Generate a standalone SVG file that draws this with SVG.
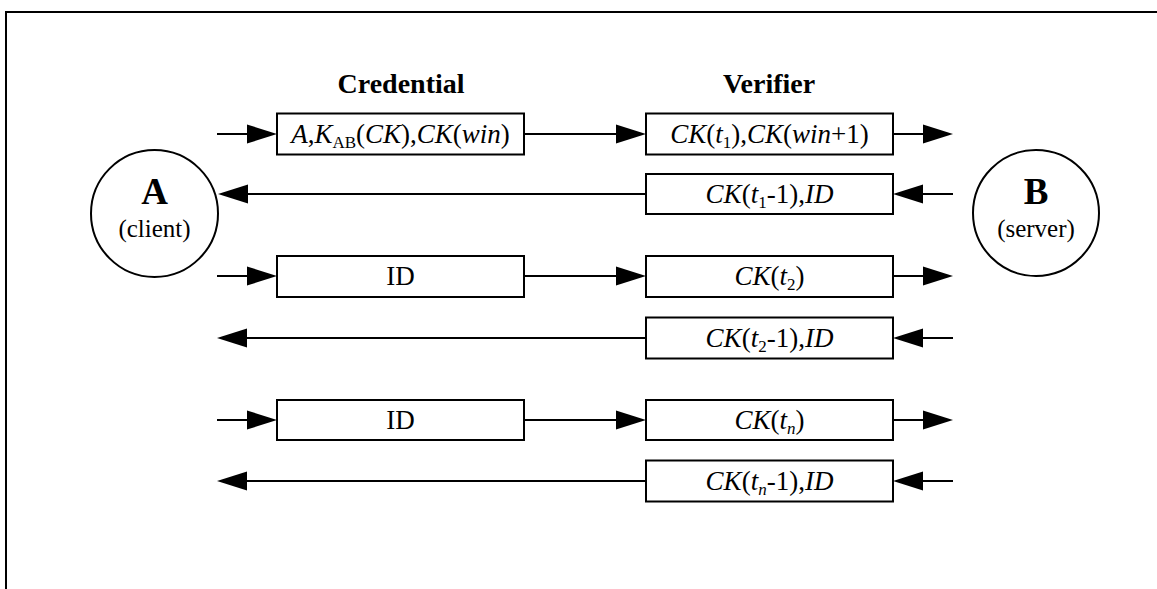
<svg xmlns="http://www.w3.org/2000/svg" width="1157" height="589" viewBox="0 0 1157 589">
  <style>
    .frame { fill: none; stroke: #000; stroke-width: 2; }
    .box { fill: #fff; stroke: #000; stroke-width: 2; }
    .party { fill: #fff; stroke: #000; stroke-width: 2; }
    .wire { fill: none; stroke: #000; stroke-width: 2; marker-end: url(#head); }
    text { font-family: "Liberation Serif", "DejaVu Serif", serif; fill: #000; }
    .hdr { font-size: 28px; font-weight: bold; text-anchor: middle; }
    .lbl { font-size: 27px; text-anchor: middle; }
    .it { font-style: italic; }
    .sub { font-size: 17px; }
    .big { font-size: 37px; font-weight: bold; text-anchor: middle; }
    .role { font-size: 25px; text-anchor: middle; }
  </style>
  <defs>
    <marker id="head" markerUnits="userSpaceOnUse" markerWidth="32" markerHeight="20" refX="20" refY="9.5" orient="auto" overflow="visible">
      <path d="M0,0 L30,9.5 L0,19 Z" fill="#000"/>
    </marker>
  </defs>

  <!-- page frame -->
  <path class="frame" d="M6,589 V12 H1157"/>

  <!-- column headings -->
  <text class="hdr" x="401" y="93">Credential</text>
  <text class="hdr" x="769" y="93">Verifier</text>

  <!-- parties -->
  <g id="client">
    <circle class="party" cx="154.5" cy="213.5" r="63.5"/>
    <text class="big" x="154.5" y="204">A</text>
    <text class="role" x="154.5" y="237">(client)</text>
  </g>
  <g id="server">
    <circle class="party" cx="1036" cy="213" r="63"/>
    <text class="big" x="1036" y="204">B</text>
    <text class="role" x="1036" y="237">(server)</text>
  </g>

  <!-- connectors -->
  <g id="connectors">
    <!-- row 1: A to B -->
    <path class="wire" d="M217,134 H267"/>
    <path class="wire" d="M524,134 H636"/>
    <path class="wire" d="M893,134 H943"/>
    <!-- row 2: B to A -->
    <path class="wire" d="M953,194 H903"/>
    <path class="wire" d="M646,194 H228"/>
    <!-- row 3 -->
    <path class="wire" d="M217,276 H267"/>
    <path class="wire" d="M524,276 H636"/>
    <path class="wire" d="M893,276 H943"/>
    <!-- row 4 -->
    <path class="wire" d="M953,338 H903"/>
    <path class="wire" d="M646,338 H227"/>
    <!-- row 5 -->
    <path class="wire" d="M217,420 H267"/>
    <path class="wire" d="M524,420 H636"/>
    <path class="wire" d="M893,420 H943"/>
    <!-- row 6 -->
    <path class="wire" d="M953,481 H903"/>
    <path class="wire" d="M646,481 H227"/>
  </g>

  <!-- messages -->
  <g id="cred1">
    <rect class="box" x="277" y="113.5" width="247" height="41"/>
    <text class="lbl" x="400.5" y="143"><tspan class="it">A</tspan>,<tspan class="it">K</tspan><tspan class="sub" dy="5">AB</tspan><tspan dy="-5">(</tspan><tspan class="it">CK</tspan>),<tspan class="it">CK</tspan>(<tspan class="it">win</tspan>)</text>
  </g>
  <g id="ver1">
    <rect class="box" x="646" y="113.5" width="247" height="41"/>
    <text class="lbl" x="769.5" y="143"><tspan class="it">CK</tspan>(<tspan class="it">t</tspan><tspan class="sub" dy="5">1</tspan><tspan dy="-5">),</tspan><tspan class="it">CK</tspan>(<tspan class="it">win</tspan>+1)</text>
  </g>
  <g id="ver1back">
    <rect class="box" x="646" y="174" width="247" height="40"/>
    <text class="lbl" x="769.5" y="203"><tspan class="it">CK</tspan>(<tspan class="it">t</tspan><tspan class="sub" dy="5">1</tspan><tspan dy="-5">-1),</tspan><tspan class="it">ID</tspan></text>
  </g>

  <g id="cred2">
    <rect class="box" x="277" y="256" width="247" height="41"/>
    <text class="lbl" x="400.5" y="285">ID</text>
  </g>
  <g id="ver2">
    <rect class="box" x="646" y="256" width="247" height="41"/>
    <text class="lbl" x="769.5" y="285"><tspan class="it">CK</tspan>(<tspan class="it">t</tspan><tspan class="sub" dy="5">2</tspan><tspan dy="-5">)</tspan></text>
  </g>
  <g id="ver2back">
    <rect class="box" x="646" y="317.5" width="247" height="41"/>
    <text class="lbl" x="769.5" y="347"><tspan class="it">CK</tspan>(<tspan class="it">t</tspan><tspan class="sub" dy="5">2</tspan><tspan dy="-5">-1),</tspan><tspan class="it">ID</tspan></text>
  </g>

  <g id="credN">
    <rect class="box" x="277" y="400" width="247" height="40"/>
    <text class="lbl" x="400.5" y="429">ID</text>
  </g>
  <g id="verN">
    <rect class="box" x="646" y="400" width="247" height="40"/>
    <text class="lbl" x="769.5" y="429"><tspan class="it">CK</tspan>(<tspan class="it">t</tspan><tspan class="sub it" dy="5">n</tspan><tspan dy="-5">)</tspan></text>
  </g>
  <g id="verNback">
    <rect class="box" x="646" y="460.5" width="247" height="41"/>
    <text class="lbl" x="769.5" y="490"><tspan class="it">CK</tspan>(<tspan class="it">t</tspan><tspan class="sub it" dy="5">n</tspan><tspan dy="-5">-1),</tspan><tspan class="it">ID</tspan></text>
  </g>
</svg>
